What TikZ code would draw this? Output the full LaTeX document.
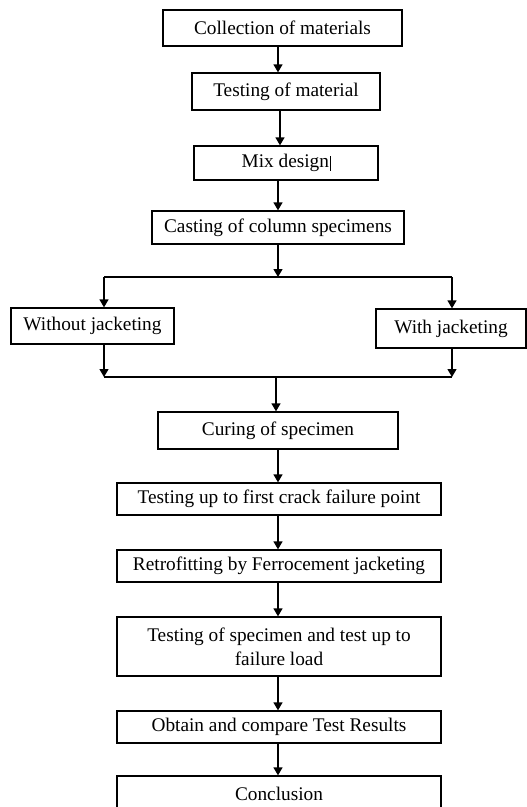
\documentclass[tikz,border=0pt]{standalone}
\usepackage{fontspec}
\setmainfont{Liberation Serif}
\usetikzlibrary{arrows.meta}
\begin{document}
\begin{tikzpicture}[x=1pt,y=-1pt,
  box/.style={draw, line width=1.3pt, inner sep=0pt, font=\fontsize{19.3}{24}\selectfont, align=center},
  arr/.style={line width=1.3pt, -{Triangle[width=9pt,length=8pt]}},
  ln/.style={line width=1.3pt}]
\useasboundingbox (0,0) rectangle (527,807);
\clip (0,0) rectangle (527,807);
\node[box, minimum width=239pt, minimum height=36pt] (c1) at (282.5,28) {Collection of materials};
\node[box, minimum width=188pt, minimum height=37pt] (c2) at (286,91.5) {Testing of material};
\node[box, minimum width=184pt, minimum height=34pt] (c3) at (286,163) {Mix design\kern0.5pt\rule[-3pt]{0.8pt}{15pt}};
\node[box, minimum width=252pt, minimum height=33pt] (c4) at (278,227.5) {Casting of column specimens};
\node[box, minimum width=163pt, minimum height=36pt] (c5) at (92.5,326) {Without jacketing};
\node[box, minimum width=150pt, minimum height=39pt] (c6) at (451,328.5) {With jacketing};
\node[box, minimum width=240pt, minimum height=37pt] (c7) at (278,430.5) {Curing of specimen};
\node[box, minimum width=324pt, minimum height=32pt] (c8) at (279,499) {Testing up to first crack failure point};
\node[box, minimum width=324pt, minimum height=32pt] (c9) at (279,566) {Retrofitting by Ferrocement jacketing};
\node[box, minimum width=324pt, minimum height=59pt] (c10) at (279,646.5) {Testing of specimen and test up to\\failure load};
\node[box, minimum width=324pt, minimum height=32pt] (c11) at (279,727) {Obtain and compare Test Results};
\node[box, minimum width=324pt, minimum height=36pt] (c12) at (279,794) {Conclusion};
\coordinate (xa) at (278,0);
\coordinate (xb) at (280,0);
\coordinate (split) at (278,277);
\coordinate (bl) at (104,277);
\coordinate (br) at (452,277);
\coordinate (ml) at (104,377);
\coordinate (mr) at (452,377);
\coordinate (mm) at (276,377);
\draw[arr] (c1.south -| xa) -- (c2.north -| xa);
\draw[arr] (c2.south -| xb) -- (c3.north -| xb);
\draw[arr] (c3.south -| xa) -- (c4.north -| xa);
\draw[arr] (c4.south -| xa) -- (split);
\draw[ln] (bl) -- (br);
\draw[arr] (bl) -- (c5.north -| bl);
\draw[arr] (br) -- (c6.north -| br);
\draw[arr] (c5.south -| ml) -- (ml);
\draw[arr] (c6.south -| mr) -- (mr);
\draw[ln] (ml) -- (mr);
\draw[arr] (mm) -- (c7.north -| mm);
\draw[arr] (c7.south -| xa) -- (c8.north -| xa);
\draw[arr] (c8.south -| xa) -- (c9.north -| xa);
\draw[arr] (c9.south -| xa) -- (c10.north -| xa);
\draw[arr] (c10.south -| xa) -- (c11.north -| xa);
\draw[arr] (c11.south -| xa) -- (c12.north -| xa);
\end{tikzpicture}
\end{document}
